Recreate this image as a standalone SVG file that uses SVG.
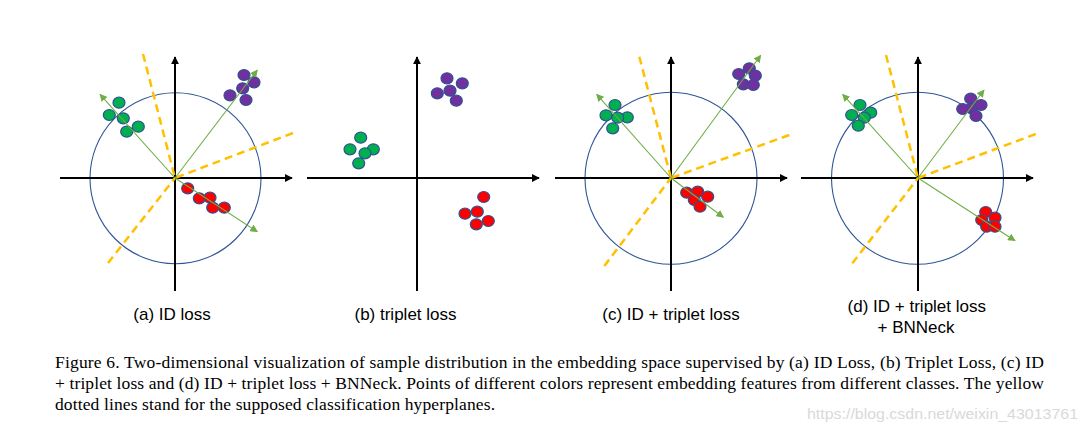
<svg xmlns="http://www.w3.org/2000/svg" width="1086" height="433" viewBox="0 0 1086 433">
<defs>
<marker id="axh" viewBox="0 0 10 10" refX="9" refY="5" markerWidth="4" markerHeight="4" markerUnits="strokeWidth" orient="auto">
<path d="M0,0 L10,5 L0,10 z" fill="#000"/>
</marker>
<marker id="gh" viewBox="0 0 10 10" refX="9" refY="5" markerWidth="7" markerHeight="7" markerUnits="strokeWidth" orient="auto">
<path d="M0,0 L10,5 L0,10 z" fill="#70AD47"/>
</marker>
</defs>
<style>
.ax{stroke:#000;stroke-width:2;fill:none;marker-end:url(#axh)}
.cir{fill:none;stroke:#2F5597;stroke-width:1.1}
.yd{stroke:#FFC000;stroke-width:2.5;stroke-dasharray:8,5;fill:none}
.ga{stroke:#70AD47;stroke-width:1.1;fill:none;marker-end:url(#gh)}
.g{fill:#00B050;stroke:#2F528F;stroke-width:1.2}
.p{fill:#7030A0;stroke:#2F528F;stroke-width:1.2}
.r{fill:#FF0000;stroke:#2F528F;stroke-width:1.2}
.lab{font-family:"Liberation Sans",Arial,sans-serif;font-size:17px;fill:#000}
.cap{font-family:"Liberation Serif","Times New Roman",serif;font-size:17.5px;fill:#000}
.wm{font-family:"Liberation Sans",Arial,sans-serif;font-size:15px;fill:#d9d9d9}
</style>

<g id="panel-a">
<circle class="cir" cx="175.5" cy="178.3" r="85.5"/>
<line class="ax" x1="60" y1="178" x2="292" y2="178"/>
<line class="ax" x1="175" y1="291" x2="175" y2="57"/>
<path class="yd" d="M143,54 L175,178"/>
<path class="yd" d="M293,133 L175,178"/>
<path class="yd" d="M108,263 L175,178"/>
<g>
<ellipse class="g" cx="119" cy="102.7" rx="6" ry="5.5"/>
<ellipse class="g" cx="109.3" cy="115" rx="6" ry="5.5"/>
<ellipse class="g" cx="123.3" cy="118.3" rx="6" ry="5.5"/>
<ellipse class="g" cx="138.3" cy="126.7" rx="6" ry="5.5"/>
<ellipse class="g" cx="126.7" cy="131.7" rx="6" ry="5.5"/>
<ellipse class="p" cx="244" cy="75" rx="6" ry="5.5"/>
<ellipse class="p" cx="254" cy="82.3" rx="6" ry="5.5"/>
<ellipse class="p" cx="242.7" cy="88.3" rx="6" ry="5.5"/>
<ellipse class="p" cx="230" cy="95.3" rx="6" ry="5.5"/>
<ellipse class="p" cx="246" cy="100" rx="6" ry="5.5"/>
<ellipse class="r" cx="187.7" cy="188.3" rx="6" ry="5.5"/>
<ellipse class="r" cx="199.3" cy="198.3" rx="6" ry="5.5"/>
<ellipse class="r" cx="210" cy="197.7" rx="6" ry="5.5"/>
<ellipse class="r" cx="212.7" cy="207.7" rx="6" ry="5.5"/>
<ellipse class="r" cx="224.3" cy="207.7" rx="6" ry="5.5"/>
</g>
<line class="ga" x1="175" y1="178" x2="100" y2="94.3"/>
<line class="ga" x1="175" y1="178" x2="257.3" y2="70"/>
<line class="ga" x1="175" y1="178" x2="257.3" y2="231.7"/>
<text class="lab" x="172" y="320" text-anchor="middle">(a) ID loss</text>
</g>

<g id="panel-b">
<line class="ax" x1="307" y1="178" x2="539" y2="178"/>
<line class="ax" x1="417" y1="291" x2="417" y2="57"/>
<ellipse class="p" cx="447" cy="78.3" rx="6" ry="5.5"/>
<ellipse class="p" cx="462.3" cy="83.3" rx="6" ry="5.5"/>
<ellipse class="p" cx="450" cy="90.7" rx="6" ry="5.5"/>
<ellipse class="p" cx="437.3" cy="93.3" rx="6" ry="5.5"/>
<ellipse class="p" cx="456.3" cy="100.7" rx="6" ry="5.5"/>
<ellipse class="g" cx="360.7" cy="137.7" rx="6" ry="5.5"/>
<ellipse class="g" cx="350" cy="149.3" rx="6" ry="5.5"/>
<ellipse class="g" cx="373.3" cy="149.3" rx="6" ry="5.5"/>
<ellipse class="g" cx="365" cy="153.3" rx="6" ry="5.5"/>
<ellipse class="g" cx="358.7" cy="163.3" rx="6" ry="5.5"/>
<ellipse class="r" cx="483.7" cy="197" rx="6" ry="5.5"/>
<ellipse class="r" cx="465" cy="213.7" rx="6" ry="5.5"/>
<ellipse class="r" cx="477.3" cy="211.7" rx="6" ry="5.5"/>
<ellipse class="r" cx="488.3" cy="221" rx="6" ry="5.5"/>
<ellipse class="r" cx="476.3" cy="224.3" rx="6" ry="5.5"/>
<text class="lab" x="405.5" y="320" text-anchor="middle">(b) triplet loss</text>
</g>

<g id="panel-c">
<circle class="cir" cx="671" cy="178.3" r="86"/>
<line class="ax" x1="555" y1="178" x2="787" y2="178"/>
<line class="ax" x1="671" y1="291" x2="671" y2="57"/>
<path class="yd" d="M639.3,56.7 L671,178"/>
<path class="yd" d="M789.3,135 L671,178"/>
<path class="yd" d="M604.3,266 L671,178"/>
<ellipse class="g" cx="615" cy="105" rx="6" ry="5.5"/>
<ellipse class="g" cx="606" cy="115.3" rx="6" ry="5.5"/>
<ellipse class="g" cx="627.3" cy="117.3" rx="6" ry="5.5"/>
<ellipse class="g" cx="617.7" cy="117.7" rx="6" ry="5.5"/>
<ellipse class="g" cx="612.7" cy="128.3" rx="6" ry="5.5"/>
<ellipse class="p" cx="749.3" cy="68.3" rx="6" ry="5.5"/>
<ellipse class="p" cx="738.7" cy="74" rx="6" ry="5.5"/>
<ellipse class="p" cx="755.3" cy="75.7" rx="6" ry="5.5"/>
<ellipse class="p" cx="743.3" cy="84.3" rx="6" ry="5.5"/>
<ellipse class="p" cx="753.3" cy="85" rx="6" ry="5.5"/>
<ellipse class="r" cx="686.7" cy="192.7" rx="6" ry="5.5"/>
<ellipse class="r" cx="697.7" cy="191.7" rx="6" ry="5.5"/>
<ellipse class="r" cx="707.7" cy="196.7" rx="6" ry="5.5"/>
<ellipse class="r" cx="694.3" cy="200" rx="6" ry="5.5"/>
<ellipse class="r" cx="700" cy="206.7" rx="6" ry="5.5"/>
<line class="ga" x1="671" y1="178" x2="596.7" y2="94.3"/>
<line class="ga" x1="671" y1="178" x2="760.7" y2="55.3"/>
<line class="ga" x1="671" y1="178" x2="723.3" y2="217.3"/>
<text class="lab" x="671" y="319.5" text-anchor="middle">(c) ID + triplet loss</text>
</g>

<g id="panel-d">
<circle class="cir" cx="917.5" cy="178.3" r="86"/>
<line class="ax" x1="801" y1="178" x2="1033" y2="178"/>
<line class="ax" x1="918" y1="291" x2="918" y2="57"/>
<path class="yd" d="M886,55 L918,178"/>
<path class="yd" d="M1035.7,134 L918,178"/>
<path class="yd" d="M852.3,263.3 L918,178"/>
<ellipse class="g" cx="860" cy="105" rx="6" ry="5.5"/>
<ellipse class="g" cx="870.7" cy="112.7" rx="6" ry="5.5"/>
<ellipse class="g" cx="851.7" cy="115" rx="6" ry="5.5"/>
<ellipse class="g" cx="864.3" cy="117.7" rx="6" ry="5.5"/>
<ellipse class="g" cx="858.3" cy="125.7" rx="6" ry="5.5"/>
<ellipse class="p" cx="970.7" cy="98.7" rx="6" ry="5.5"/>
<ellipse class="p" cx="971.7" cy="108.3" rx="6" ry="5.5"/>
<ellipse class="p" cx="981" cy="105" rx="6" ry="5.5"/>
<ellipse class="p" cx="962.7" cy="109" rx="6" ry="5.5"/>
<ellipse class="p" cx="976" cy="116" rx="6" ry="5.5"/>
<ellipse class="r" cx="985.7" cy="212" rx="6" ry="5.5"/>
<ellipse class="r" cx="995" cy="217.7" rx="6" ry="5.5"/>
<ellipse class="r" cx="981.7" cy="220" rx="6" ry="5.5"/>
<ellipse class="r" cx="986.7" cy="226.7" rx="6" ry="5.5"/>
<ellipse class="r" cx="995" cy="226.7" rx="6" ry="5.5"/>
<line class="ga" x1="918" y1="178" x2="842.7" y2="94.3"/>
<line class="ga" x1="918" y1="178" x2="984" y2="90"/>
<line class="ga" x1="918" y1="178" x2="1015" y2="240.7"/>
<text class="lab" x="916.8" y="311.5" text-anchor="middle">(d) ID + triplet loss</text>
<text class="lab" x="916" y="333" text-anchor="middle">+ BNNeck</text>
</g>

<g id="caption">
<text class="cap" x="55" y="368" textLength="989" lengthAdjust="spacing">Figure 6. Two-dimensional visualization of sample distribution in the embedding space supervised by (a) ID Loss, (b) Triplet Loss, (c) ID</text>
<text class="cap" x="55" y="389" textLength="989" lengthAdjust="spacing">+ triplet loss and (d) ID + triplet loss + BNNeck. Points of different colors represent embedding features from different classes. The yellow</text>
<text class="cap" x="55" y="410" textLength="440" lengthAdjust="spacing">dotted lines stand for the supposed classification hyperplanes.</text>
</g>
<text class="wm" x="807" y="419" textLength="271" lengthAdjust="spacingAndGlyphs">https://blog.csdn.net/weixin_43013761</text>
</svg>
